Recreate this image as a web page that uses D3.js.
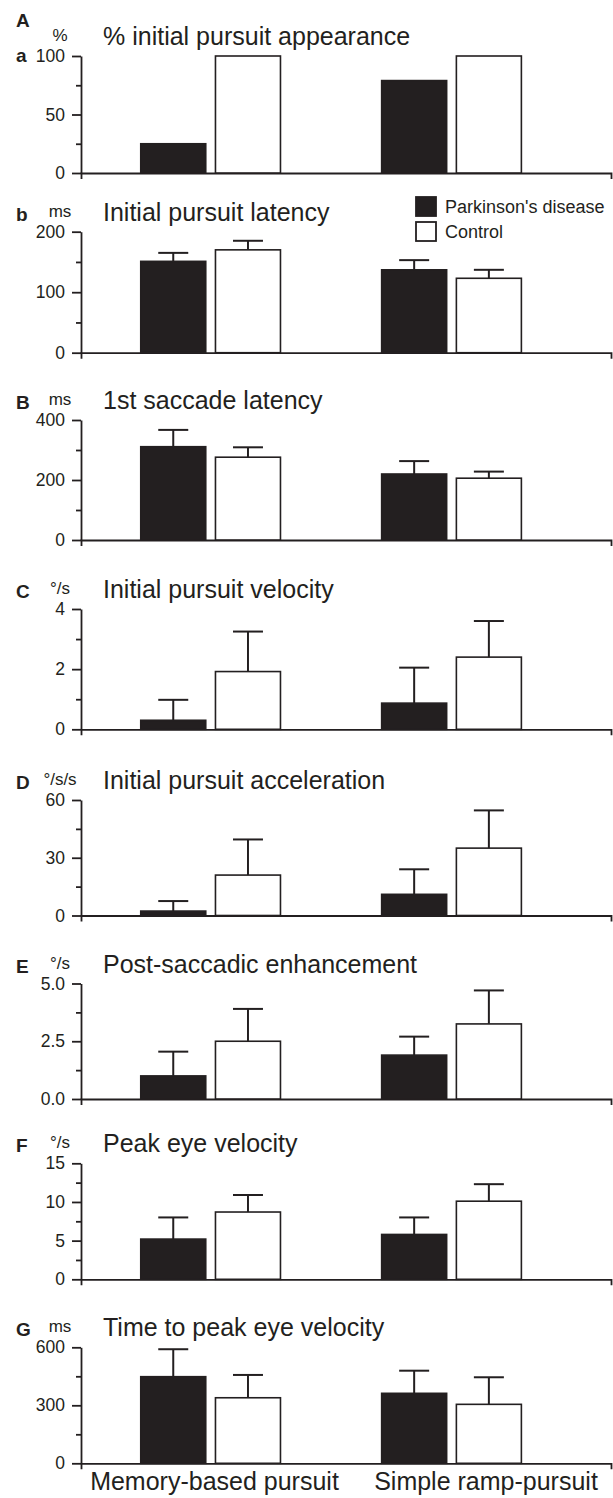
<!DOCTYPE html>
<html>
<head>
<meta charset="utf-8">
<script src="https://cdn.jsdelivr.net/npm/d3@7"></script>
<style>
  body { margin: 0; background: #fff; }
  svg { display: block; font-family: "Liberation Sans", Arial, sans-serif; }
  .axis path, .axis line { stroke: #231f20; stroke-width: 1.8; }
  .axis text { font-size: 17.5px; fill: #231f20; }
</style>
</head>
<body>
<script>
// groups and series
const groups = ["Memory-based pursuit", "Simple ramp-pursuit"];
const series = ["Parkinson's disease", "Control"];

// panels
const panelLetters = ["a", "b", "B", "C", "D", "E", "F", "G"];
const panelTitles = [
  "% initial pursuit appearance",
  "Initial pursuit latency",
  "1st saccade latency",
  "Initial pursuit velocity",
  "Initial pursuit acceleration",
  "Post-saccadic enhancement",
  "Peak eye velocity",
  "Time to peak eye velocity"
];
const panelUnits = ["%", "ms", "ms", "°/s", "°/s/s", "°/s", "°/s", "ms"];
const yMax = [100, 200, 400, 4, 60, 5, 15, 600];
const majorTicks = [
  [0, 50, 100], [0, 100, 200], [0, 200, 400], [0, 2, 4],
  [0, 30, 60], [0, 2.5, 5], [0, 5, 10, 15], [0, 300, 600]
];
const minorTicks = [
  [25, 75], [50, 150], [100, 300], [1, 3],
  [15, 45], [1.25, 3.75], [2.5, 7.5, 12.5], [150, 450]
];
const tickFormats = ["d", "d", "d", "d", "d", ".1f", "d", "d"];

// values per panel: [memory-based, simple ramp]
const pdMean = [[25, 79], [151, 137], [311, 220], [0.3, 0.87], [2.3, 11], [1.0, 1.9], [5.2, 5.8], [448, 362]];
const pdErr = [[0, 0], [14, 16], [56, 43], [0.68, 1.18], [5.2, 13], [1.05, 0.8], [2.8, 2.2], [142, 117]];
const ctrlMean = [[100, 100], [170, 123], [276, 206], [1.92, 2.4], [21, 35], [2.5, 3.25], [8.7, 10.1], [339, 305]];
const ctrlErr = [[0, 0], [15, 14], [33, 22], [1.33, 1.2], [18.5, 19.6], [1.4, 1.45], [2.2, 2.2], [118, 140]];

// layout
const W = 613, H = 1498;
const axisLeft = 81, axisRight = 611;
const panelTop = [56, 231.7, 420, 609, 800, 983.5, 1163.3, 1347.3];
const panelZero = [173, 352.7, 540, 729.3, 915.5, 1099, 1279.3, 1463.3];
const ink = "#231f20";

const svg = d3.select("body").append("svg")
  .attr("width", W)
  .attr("height", H);

svg.append("rect").attr("width", W).attr("height", H).attr("fill", "#fff");

const x0 = d3.scaleBand()
  .domain(groups)
  .range([axisLeft, axisRight])
  .paddingInner(0.42)
  .paddingOuter(0.31)
  .align(0.4);

const x1 = d3.scaleBand()
  .domain(series)
  .range([0, x0.bandwidth()])
  .paddingInner(0.13);

const capHalf = 15;

panelTitles.forEach(function(title, i) {
  const y = d3.scaleLinear()
    .domain([0, yMax[i]])
    .range([panelZero[i], panelTop[i]]);

  const g = svg.append("g");

  // minor ticks
  g.append("g")
    .attr("class", "axis")
    .attr("transform", "translate(" + axisLeft + ",0)")
    .call(d3.axisLeft(y).tickValues(minorTicks[i]).tickSize(5).tickSizeOuter(0).tickFormat(""))
    .call(s => s.select(".domain").remove());

  // major ticks
  g.append("g")
    .attr("class", "axis")
    .attr("transform", "translate(" + axisLeft + ",0)")
    .call(d3.axisLeft(y).tickValues(majorTicks[i]).tickSize(9).tickPadding(7)
      .tickSizeOuter(0).tickFormat(d3.format(tickFormats[i])));

  // x axis
  g.append("g")
    .attr("class", "axis")
    .attr("transform", "translate(0," + panelZero[i] + ")")
    .call(d3.axisBottom(d3.scaleLinear().range([axisLeft, axisRight]))
      .tickValues([]).tickSizeOuter(6));

  // bars
  const rows = [];
  groups.forEach(function(grp, j) {
    rows.push({ group: grp, s: series[0], v: pdMean[i][j], e: pdErr[i][j] });
    rows.push({ group: grp, s: series[1], v: ctrlMean[i][j], e: ctrlErr[i][j] });
  });

  // error bars
  const eb = g.selectAll(".err")
    .data(rows.filter(d => d.e > 0))
    .enter().append("g")
    .attr("transform", d => "translate(" + (x0(d.group) + x1(d.s) + x1.bandwidth() / 2) + ",0)");
  eb.append("line")
    .attr("y1", d => y(d.v)).attr("y2", d => y(d.v + d.e))
    .attr("stroke", ink).attr("stroke-width", 2);
  eb.append("line")
    .attr("x1", -capHalf).attr("x2", capHalf)
    .attr("y1", d => y(d.v + d.e)).attr("y2", d => y(d.v + d.e))
    .attr("stroke", ink).attr("stroke-width", 2);

  g.selectAll(".bar")
    .data(rows)
    .enter().append("rect")
    .attr("x", d => x0(d.group) + x1(d.s))
    .attr("y", d => y(d.v))
    .attr("width", x1.bandwidth())
    .attr("height", d => y(0) - y(d.v))
    .attr("fill", d => d.s === series[0] ? ink : "#fff")
    .attr("stroke", ink)
    .attr("stroke-width", 1.6);

  // title, unit, letter
  const ty = panelTop[i] - 11;
  g.append("text")
    .attr("x", 103).attr("y", ty)
    .attr("font-size", 25).attr("fill", ink)
    .text(title);
  g.append("text")
    .attr("x", 60).attr("y", ty - 4)
    .attr("text-anchor", "middle")
    .attr("font-size", 17).attr("fill", ink)
    .text(panelUnits[i]);
  g.append("text")
    .attr("x", 16).attr("y", i === 0 ? panelTop[i] + 6 : ty)
    .attr("font-size", 19).attr("font-weight", "bold").attr("fill", ink)
    .text(panelLetters[i]);
});

// section letter A
svg.append("text")
  .attr("x", 16).attr("y", 27)
  .attr("font-size", 19).attr("font-weight", "bold").attr("fill", ink)
  .text("A");

// legend
const legend = svg.append("g").attr("transform", "translate(415,196)");
series.forEach(function(s, k) {
  legend.append("rect")
    .attr("x", 1).attr("y", k * 25 + 1)
    .attr("width", 20).attr("height", 19)
    .attr("fill", k === 0 ? ink : "#fff")
    .attr("stroke", ink).attr("stroke-width", 1.8);
  legend.append("text")
    .attr("x", 30).attr("y", k * 25 + 17)
    .attr("font-size", 18).attr("fill", ink)
    .text(s);
});

// group labels
const labelX = d3.scalePoint().domain(groups).range([214.5, 486]);
svg.selectAll(".glabel")
  .data(groups)
  .enter().append("text")
  .attr("x", d => labelX(d))
  .attr("y", 1490)
  .attr("text-anchor", "middle")
  .attr("font-size", 25)
  .attr("fill", ink)
  .text(d => d);
</script>
</body>
</html>
